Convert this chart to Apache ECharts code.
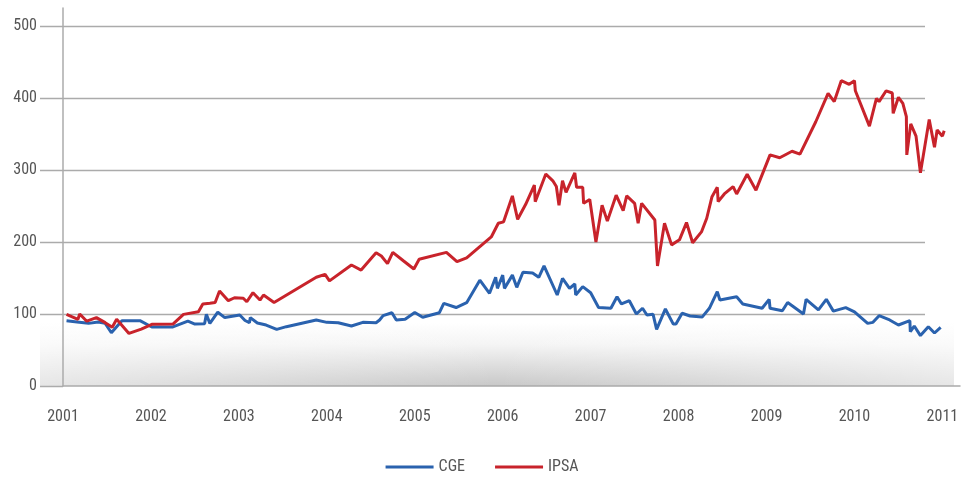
<!DOCTYPE html>
<html>
<head>
<meta charset="utf-8">
<script src="https://cdn.jsdelivr.net/npm/echarts@6/dist/echarts.min.js"></script>
<style>
    html, body { margin: 0; padding: 0; background: #fff; }
    #chart { width: 964px; height: 485px; }
</style>
</head>
<body>
<div id="chart"></div>
<script>
// años (decimales) y valores
var ipsaDates = [2001.04, 2001.17, 2001.19, 2001.27, 2001.38, 2001.48, 2001.56, 2001.61, 2001.75, 2001.89,
    2002.01, 2002.25, 2002.37, 2002.54, 2002.59, 2002.67, 2002.73, 2002.78, 2002.88, 2002.95,
    2003.05, 2003.09, 2003.16, 2003.24, 2003.28, 2003.40, 2003.88, 2003.98, 2004.03, 2004.28,
    2004.39, 2004.56, 2004.62, 2004.69, 2004.75, 2004.87, 2004.99, 2005.05, 2005.36, 2005.48,
    2005.59, 2005.87, 2005.95, 2006.01, 2006.11, 2006.17, 2006.26, 2006.36, 2006.37, 2006.49,
    2006.57, 2006.61, 2006.64, 2006.68, 2006.72, 2006.82, 2006.84, 2006.91, 2006.92, 2006.99,
    2007.06, 2007.13, 2007.19, 2007.29, 2007.37, 2007.41, 2007.50, 2007.54, 2007.58, 2007.73,
    2007.76, 2007.84, 2007.92, 2008.01, 2008.09, 2008.16, 2008.26, 2008.32, 2008.38, 2008.44,
    2008.45, 2008.52, 2008.62, 2008.66, 2008.78, 2008.88, 2009.04, 2009.15, 2009.29, 2009.38,
    2009.56, 2009.70, 2009.77, 2009.85, 2009.94, 2010.00, 2010.01, 2010.17, 2010.25, 2010.28,
    2010.36, 2010.43, 2010.44, 2010.50, 2010.55, 2010.59, 2010.595, 2010.64, 2010.70, 2010.75,
    2010.85, 2010.91, 2010.94, 2011.00, 2011.02];
var ipsaValues = [99.5, 92.6, 100, 90, 95, 88, 81.5, 92.6, 73, 79,
    85.6, 86, 99.5, 103, 114, 115, 116, 132, 118.5, 122.6,
    121.8, 117, 129.6, 119.4, 126.4, 116, 151, 155, 146, 168,
    161, 185, 180.5, 170, 185.6, 174, 162.5, 176, 185.6, 172.6,
    178, 207, 226, 228, 264, 231.5, 252, 279, 256, 294.4,
    285, 277, 251, 285, 269, 296, 276, 276, 253.7, 259,
    200, 251, 229, 265, 243.5, 264, 253.7, 226, 253.7, 230.5,
    166.7, 226, 196, 203, 227, 199, 214, 233, 263, 276,
    256, 266.7, 277, 266.7, 294, 272, 321, 317, 326, 322,
    367, 406.5, 395, 424, 419, 424, 410, 361, 399.5, 395,
    410, 407, 378.7, 401, 392.6, 374, 321, 364, 347, 296,
    370, 331.5, 355.6, 347, 354.6];

var cgeDates = [2001.04, 2001.16, 2001.29, 2001.40, 2001.48, 2001.55, 2001.67, 2001.875, 2002.01, 2002.25,
    2002.42, 2002.50, 2002.61, 2002.63, 2002.67, 2002.76, 2002.84, 2003.01, 2003.07, 2003.12,
    2003.13, 2003.21, 2003.31, 2003.43, 2003.54, 2003.88, 2004.00, 2004.13, 2004.28, 2004.41,
    2004.56, 2004.60, 2004.64, 2004.74, 2004.79, 2004.89, 2005.00, 2005.09, 2005.28, 2005.33,
    2005.47, 2005.59, 2005.74, 2005.85, 2005.92, 2005.94, 2006.00, 2006.02, 2006.11, 2006.16,
    2006.23, 2006.34, 2006.41, 2006.47, 2006.62, 2006.68, 2006.76, 2006.82, 2006.83, 2006.91,
    2007.00, 2007.09, 2007.23, 2007.30, 2007.35, 2007.44, 2007.52, 2007.59, 2007.64, 2007.71,
    2007.75, 2007.85, 2007.94, 2007.97, 2008.04, 2008.13, 2008.27, 2008.35, 2008.44, 2008.47,
    2008.66, 2008.73, 2008.95, 2009.03, 2009.04, 2009.18, 2009.24, 2009.42, 2009.45, 2009.59,
    2009.68, 2009.76, 2009.90, 2010.00, 2010.15, 2010.21, 2010.28, 2010.40, 2010.50, 2010.63,
    2010.635, 2010.68, 2010.75, 2010.84, 2010.91, 2010.98];
var cgeValues = [90.7, 89, 87, 89, 87, 74, 90.7, 90.7, 82, 82,
    90, 86, 86.5, 99.5, 87, 102.5, 95, 98.6, 91, 88,
    95, 87.5, 84.7, 78.7, 82.4, 91.7, 88.4, 87.9, 83.3, 88.4,
    87.9, 91.7, 97.7, 101.8, 91.7, 92.6, 102, 95.4, 101.8, 114.8,
    109, 115.7, 147, 128.7, 151, 135.6, 154, 135.6, 154, 137,
    158, 157, 151, 167, 126.4, 149.5, 135.6, 141.7, 126.4, 138,
    129.6, 109, 108, 124, 114, 118.5, 100, 108, 98.6, 99.5,
    78.7, 107, 86, 86, 101, 97.2, 96, 107.9, 131, 119.4,
    124, 114, 108, 120.4, 108, 104.6, 116, 100, 120.4, 105.6,
    120.4, 104, 108.8, 103, 87, 88.4, 97.7, 91.7, 84.7, 90.7,
    75.4, 83.3, 70, 82.4, 73.6, 81.5];

var yTicks = [0, 100, 200, 300, 400, 500];

var fontFamily = "'Liberation Sans Narrow', 'Roboto Condensed', Roboto, sans-serif";
var textColor = '#555555';
var gridColor = '#ababab';

function pairs(xs, ys) {
    return xs.map(function (x, i) {
        return [x, ys[i]];
    });
}

var chart = echarts.init(document.getElementById('chart'), null, {renderer: 'canvas'});

var option = {
    animation: false,
    backgroundColor: '#ffffff',
    grid: {
        left: 63,
        right: 4,
        top: 8,
        bottom: 99,
        containLabel: false
    },
    legend: {
        bottom: 5,
        left: 'center',
        icon: 'rect',
        itemWidth: 48,
        itemHeight: 3,
        itemGap: 30,
        textStyle: {fontFamily: fontFamily, fontSize: 16, color: textColor},
        data: ['CGE', 'IPSA']
    },
    xAxis: {
        type: 'value',
        min: 2001,
        max: 2011.2,
        interval: 1,
        axisLine: {show: true, lineStyle: {color: gridColor, width: 1.5}},
        axisTick: {show: false},
        splitLine: {show: false},
        axisLabel: {
            showMaxLabel: false,
            margin: 23,
            fontFamily: fontFamily,
            fontSize: 16,
            color: textColor,
            formatter: function (v) { return String(Math.round(v)); }
        }
    },
    yAxis: {
        type: 'value',
        min: 0,
        max: 525,
        interval: 100,
        axisLine: {show: true, lineStyle: {color: gridColor, width: 1.5}},
        axisTick: {show: false},
        splitLine: {show: false},
        axisLabel: {
            showMaxLabel: false,
            margin: 26,
            padding: [0, 0, 13, 0],
            fontFamily: fontFamily,
            fontSize: 16,
            color: textColor
        }
    },
    series: [
        {
            name: 'CGE',
            type: 'line',
            data: pairs(cgeDates, cgeValues),
            showSymbol: false,
            symbol: 'none',
            color: '#2a62ae',
            lineStyle: {width: 3, color: '#2a62ae'},
            z: 5
        },
        {
            name: 'IPSA',
            type: 'line',
            data: pairs(ipsaDates, ipsaValues),
            showSymbol: false,
            symbol: 'none',
            color: '#c8232b',
            lineStyle: {width: 3, color: '#c8232b'},
            z: 6
        }
    ]
};

chart.setOption(option);

// líneas de guía y sombreado inferior
function drawDecor() {
    var y0 = chart.convertToPixel({yAxisIndex: 0}, 0);
    var yShade = chart.convertToPixel({yAxisIndex: 0}, 88);
    var graphics = [
        {
            type: 'rect',
            z: -10,
            shape: {x: 40, y: yShade, width: 914, height: y0 - yShade},
            style: {
                fill: new echarts.graphic.LinearGradient(0, 0, 0, 1, [
                    {offset: 0, color: 'rgba(255,255,255,1)'},
                    {offset: 0.35, color: '#f4f4f4'},
                    {offset: 1, color: '#c8c8c8'}
                ])
            }
        },
        {
            type: 'rect',
            z: -9,
            shape: {x: 40, y: yShade, width: 914, height: y0 - yShade},
            style: {
                fill: new echarts.graphic.LinearGradient(0, 0, 1, 0, [
                    {offset: 0, color: 'rgba(255,255,255,0.55)'},
                    {offset: 0.5, color: 'rgba(255,255,255,0)'},
                    {offset: 1, color: 'rgba(255,255,255,0.55)'}
                ])
            }
        }
    ];
    yTicks.forEach(function (v) {
        var py = Math.round(chart.convertToPixel({yAxisIndex: 0}, v)) + 0.5;
        graphics.push({
            type: 'line',
            z: -5,
            shape: {x1: 40, y1: py, x2: v === 0 ? 63 : 925, y2: py},
            style: {stroke: gridColor, lineWidth: 1.5}
        });
    });
    chart.setOption({graphic: graphics});
}

drawDecor();
</script>
</body>
</html>
